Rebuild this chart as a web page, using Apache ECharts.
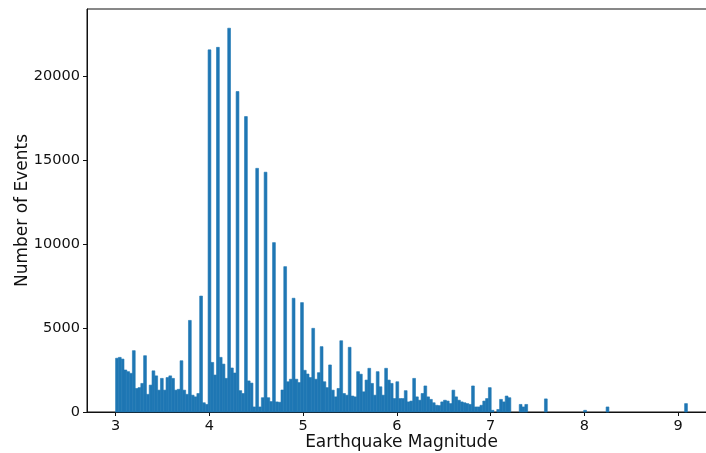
<!DOCTYPE html>
<html>
<head>
<meta charset="utf-8">
<script src="https://cdn.jsdelivr.net/npm/echarts@6/dist/echarts.min.js"></script>
<style>
html,body{margin:0;padding:0;background:#fff;}
#chart{width:706px;height:453px;}
</style>
</head>
<body>
<div id="chart"></div>
<script>
// Histogram: magnitudes 3.0 .. 9.1 split into equal bins
const binStart = 3.0;
const binEnd = 9.1;
const counts = [
  3200, 3250, 3150, 2500, 2400, 2300, 3650, 1400, 1450, 1700,
  3350, 1050, 1600, 2450, 2150, 1300, 2000, 1300, 2050, 2150,
  2000, 1300, 1350, 3050, 1300, 1050, 5450, 1000, 900, 1100,
  6900, 550, 450, 21550, 2950, 2200, 21700, 3250, 2850, 2000,
  22840, 2620, 2320, 19070, 1270, 1100, 17580, 1850, 1720, 300,
  14500, 300, 850, 14270, 850, 620, 10080, 600, 580, 1310,
  8650, 1800, 1950, 6770, 1950, 1750, 6510, 2480, 2260, 2050,
  4980, 1950, 2340, 3890, 1800, 1450, 2800, 1300, 900, 1400,
  4240, 1100, 1000, 3850, 950, 900, 2400, 2250, 1200, 1900,
  2600, 1700, 1000, 2400, 1500, 1000, 2600, 1900, 1700, 800,
  1800, 800, 800, 1270, 600, 650, 2000, 900, 700, 1100,
  1550, 900, 750, 550, 400, 380, 600, 700, 650, 500,
  1300, 900, 700, 600, 550, 500, 450, 1550, 300, 300,
  400, 650, 800, 1450, 100, 0, 150, 750, 600, 950,
  850, 0, 0, 0, 450, 300, 450, 0, 0, 0,
  0, 0, 0, 780, 0, 0, 0, 0, 0, 0,
  0, 0, 0, 0, 0, 0, 0, 100, 0, 0,
  0, 0, 0, 0, 0, 300, 0, 0, 0, 0,
  0, 0, 0, 0, 0, 0, 0, 0, 0, 0,
  0, 0, 0, 0, 0, 0, 0, 0, 0, 0,
  0, 0, 0, 500
];
const xTicks = [3, 4, 5, 6, 7, 8, 9];
const yTicks = [0, 5000, 10000, 15000, 20000];
const xTitle = 'Earthquake Magnitude';
const yTitle = 'Number of Events';

const nBins = counts.length;
const binW = (binEnd - binStart) / nBins;
const histData = counts.map((c, i) => [binStart + i * binW, binStart + (i + 1) * binW, c]);

const maxCount = Math.max(...counts);
const pad = (binEnd - binStart) * 0.05;

const chart = echarts.init(document.getElementById('chart'), null, {renderer: 'canvas'});
const font = 'DejaVu Sans';
const ink = '#111';
chart.setOption({
  animation: false,
  backgroundColor: '#ffffff',
  grid: {
    left: 87, top: 9, width: 629, height: 403,
    containLabel: false, outerBoundsMode: 'none',
    show: true, borderColor: ink, borderWidth: 1, backgroundColor: 'transparent'
  },
  xAxis: {
    type: 'value',
    min: binStart - pad,
    max: binEnd + pad,
    name: xTitle,
    nameLocation: 'middle',
    nameGap: 22,
    nameMoveOverlap: false,
    nameTextStyle: {fontFamily: font, fontSize: 17, color: ink},
    axisLine: {show: true, onZero: false, lineStyle: {color: ink, width: 1}},
    axisTick: {show: true, length: 4, customValues: xTicks, lineStyle: {color: ink, width: 1}},
    axisLabel: {customValues: xTicks, margin: 7, fontFamily: font, fontSize: 14.5, color: ink,
      formatter: v => String(v)},
    splitLine: {show: false}
  },
  yAxis: {
    type: 'value',
    min: 0,
    max: maxCount * 1.05,
    name: yTitle,
    nameLocation: 'middle',
    nameGap: 56,
    nameMoveOverlap: false,
    nameTextStyle: {fontFamily: font, fontSize: 17, color: ink},
    axisLine: {show: true, lineStyle: {color: ink, width: 1}},
    axisTick: {show: true, length: 4, customValues: yTicks, lineStyle: {color: ink, width: 1}},
    axisLabel: {customValues: yTicks, margin: 7, fontFamily: font, fontSize: 14.5, color: ink,
      formatter: v => String(v)},
    splitLine: {show: false}
  },
  series: [{
    type: 'custom',
    data: histData,
    encode: {x: [0, 1], y: 2},
    renderItem: function (params, api) {
      const c = api.value(2);
      if (!c) return null;
      const p0 = api.coord([api.value(0), c]);
      const p1 = api.coord([api.value(1), 0]);
      return {
        type: 'rect',
        shape: {x: p0[0], y: p0[1], width: p1[0] - p0[0], height: p1[1] - p0[1]},
        style: {fill: '#1f77b4', stroke: '#1f77b4', lineWidth: 0.6}
      };
    }
  }]
});
</script>
</body>
</html>
